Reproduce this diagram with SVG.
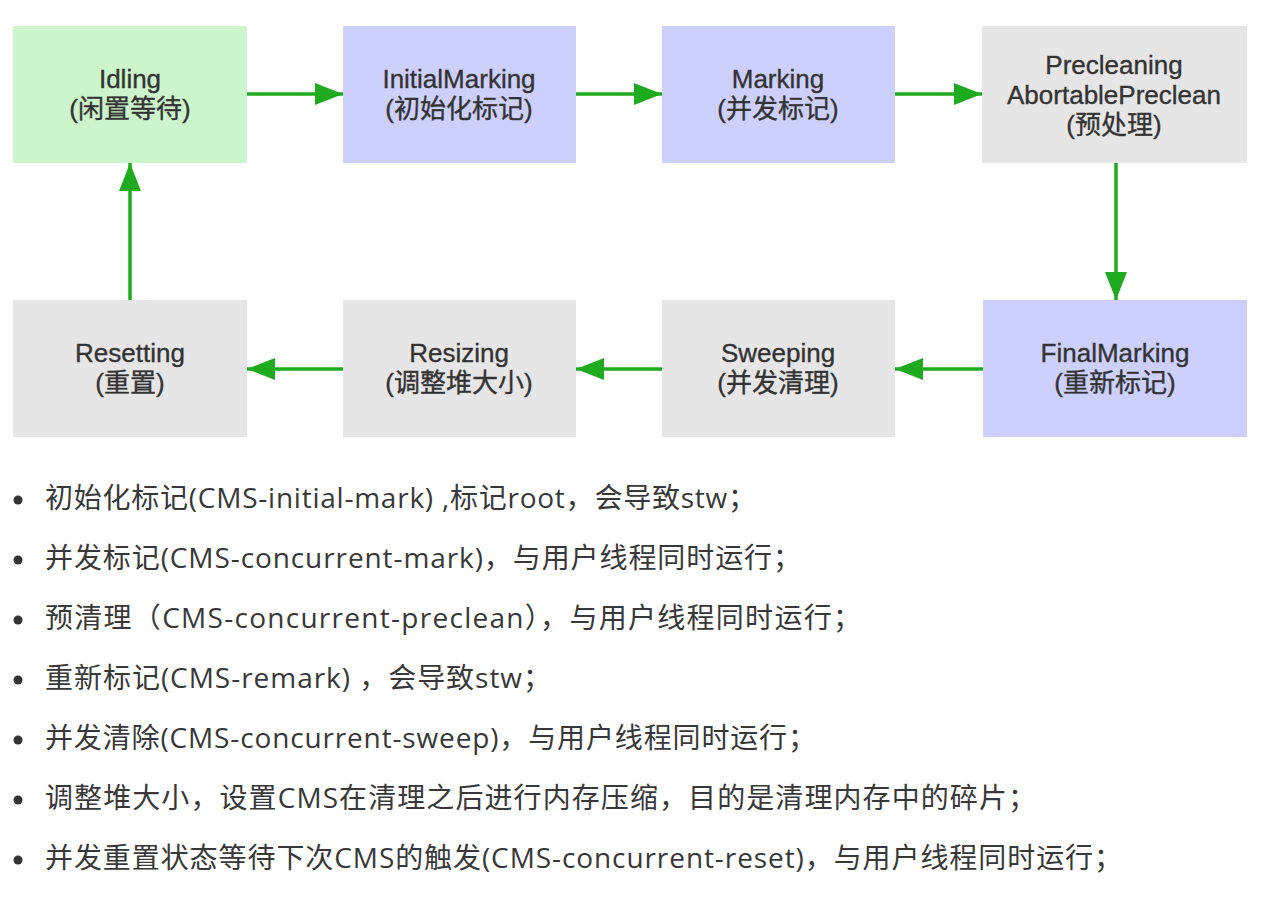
<svg xmlns="http://www.w3.org/2000/svg" width="1281" height="898" viewBox="0 0 1281 898">
<defs>
<marker id="ah" markerUnits="userSpaceOnUse" markerWidth="30" markerHeight="24" refX="28" refY="11" orient="auto">
<path d="M0,0 L28,11 L0,22 Z" fill="#1fab1f"/>
</marker>
<style>
.g{fill:#ccf5cc}.b{fill:#cdd0fd}.y{fill:#e6e6e6}
.t{font-family:"Liberation Sans","Noto Sans CJK SC",sans-serif;font-size:26px;fill:#333;stroke:#333;stroke-width:0.35;text-anchor:middle}
.c{stroke:#1fab1f;stroke-width:3.5;fill:none;marker-end:url(#ah)}
.l{font-family:"Open Sans","Noto Sans CJK SC",sans-serif;font-size:28px;fill:#383838}
.d{fill:#333}
</style>
</defs>
<rect width="1281" height="898" fill="#fff"/>
<g id="idling"><rect class="g" x="13" y="26" width="234" height="137"/><text class="t" x="130" y="88">Idling</text><text class="t" x="130" y="118">(闲置等待)</text></g>
<g id="initialmarking"><rect class="b" x="343" y="26" width="233" height="137"/><text class="t" x="459" y="88">InitialMarking</text><text class="t" x="459" y="118">(初始化标记)</text></g>
<g id="marking"><rect class="b" x="662" y="26" width="233" height="137"/><text class="t" x="778" y="88">Marking</text><text class="t" x="778" y="118">(并发标记)</text></g>
<g id="precleaning"><rect class="y" x="982" y="26" width="265" height="137"/><text class="t" x="1114" y="74">Precleaning</text><text class="t" x="1114" y="104">AbortablePreclean</text><text class="t" x="1114" y="134">(预处理)</text></g>
<g id="finalmarking"><rect class="b" x="983" y="300" width="264" height="137"/><text class="t" x="1115" y="362">FinalMarking</text><text class="t" x="1115" y="392">(重新标记)</text></g>
<g id="sweeping"><rect class="y" x="662" y="300" width="233" height="137"/><text class="t" x="778" y="362">Sweeping</text><text class="t" x="778" y="392">(并发清理)</text></g>
<g id="resizing"><rect class="y" x="343" y="300" width="233" height="137"/><text class="t" x="459" y="362">Resizing</text><text class="t" x="459" y="392">(调整堆大小)</text></g>
<g id="resetting"><rect class="y" x="13" y="300" width="234" height="137"/><text class="t" x="130" y="362">Resetting</text><text class="t" x="130" y="392">(重置)</text></g>
<g id="connectors">
<line class="c" x1="247" y1="94" x2="343" y2="94"/>
<line class="c" x1="576" y1="94" x2="662" y2="94"/>
<line class="c" x1="895" y1="94" x2="982" y2="94"/>
<line class="c" x1="1116" y1="163" x2="1116" y2="300"/>
<line class="c" x1="983" y1="369" x2="895" y2="369"/>
<line class="c" x1="662" y1="369" x2="576" y2="369"/>
<line class="c" x1="343" y1="369" x2="247" y2="369"/>
<line class="c" x1="130" y1="300" x2="130" y2="163"/>
</g>
<g id="list">
<circle class="d" cx="18" cy="500" r="4.5"/><text class="l" x="45" y="508" textLength="711" lengthAdjust="spacing">初始化标记(CMS-initial-mark) ,标记root，会导致stw；</text>
<circle class="d" cx="18" cy="560" r="4.5"/><text class="l" x="45" y="568" textLength="756" lengthAdjust="spacing">并发标记(CMS-concurrent-mark)，与用户线程同时运行；</text>
<circle class="d" cx="18" cy="620" r="4.5"/><text class="l" x="45" y="628" textLength="816" lengthAdjust="spacing">预清理（CMS-concurrent-preclean），与用户线程同时运行；</text>
<circle class="d" cx="18" cy="680" r="4.5"/><text class="l" x="45" y="688" textLength="506" lengthAdjust="spacing">重新标记(CMS-remark) ，会导致stw；</text>
<circle class="d" cx="18" cy="740" r="4.5"/><text class="l" x="45" y="748" textLength="771" lengthAdjust="spacing">并发清除(CMS-concurrent-sweep)，与用户线程同时运行；</text>
<circle class="d" cx="18" cy="800" r="4.5"/><text class="l" x="45" y="808" textLength="991" lengthAdjust="spacing">调整堆大小，设置CMS在清理之后进行内存压缩，目的是清理内存中的碎片；</text>
<circle class="d" cx="18" cy="860" r="4.5"/><text class="l" x="45" y="868" textLength="1077" lengthAdjust="spacing">并发重置状态等待下次CMS的触发(CMS-concurrent-reset)，与用户线程同时运行；</text>
</g>
</svg>
